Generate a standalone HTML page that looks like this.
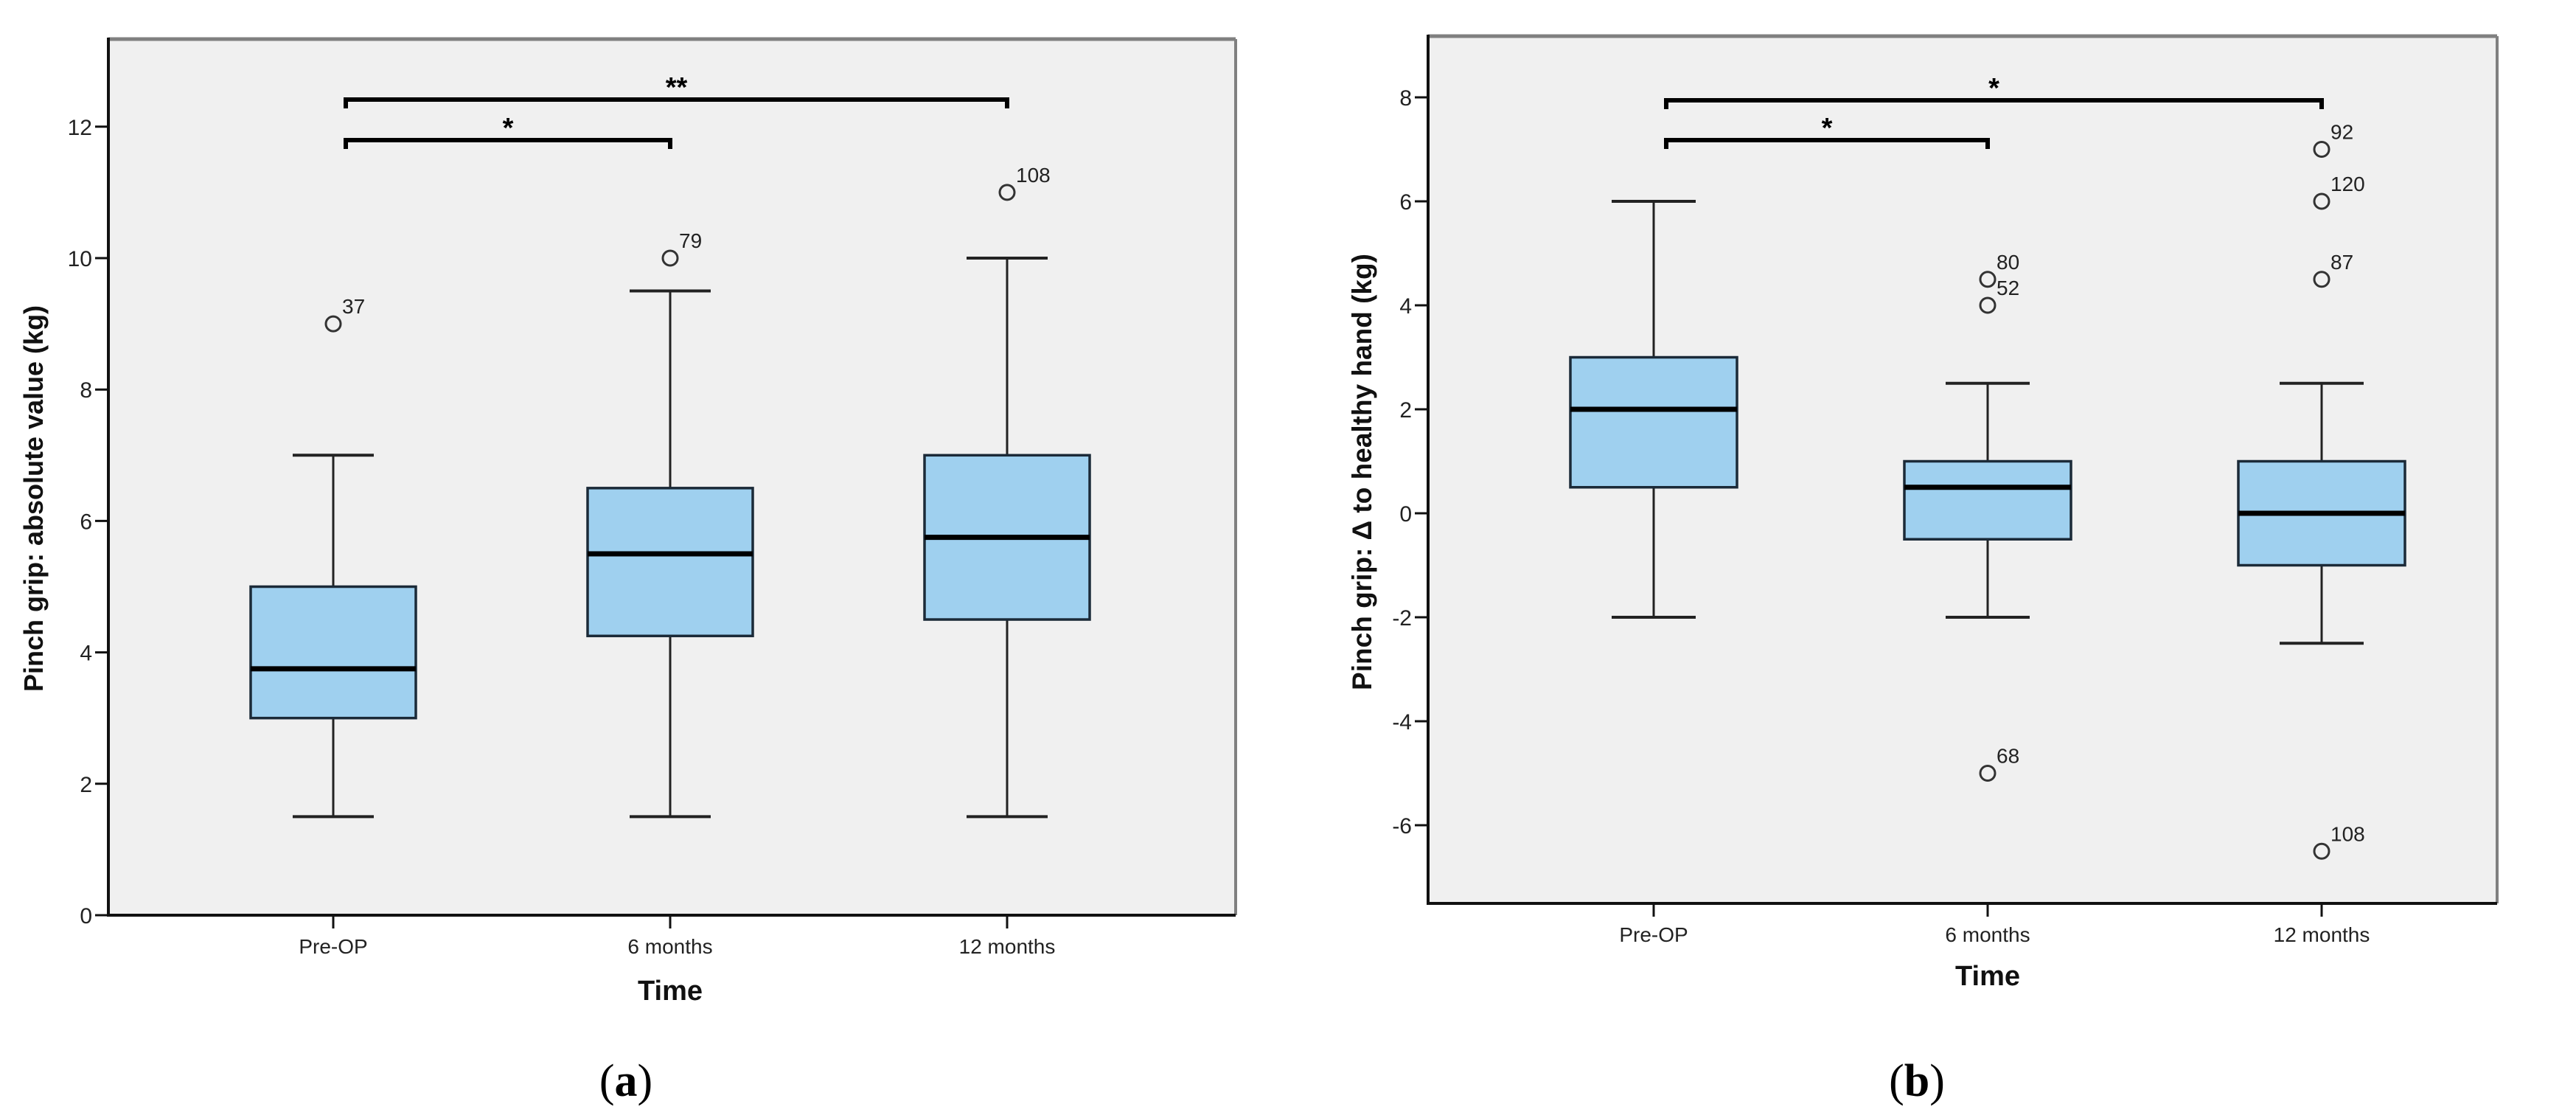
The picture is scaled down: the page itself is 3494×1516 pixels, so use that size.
<!DOCTYPE html>
<html><head><meta charset="utf-8"><style>
html,body{margin:0;padding:0;background:#fff;}
svg{display:block;}
text{font-family:"Liberation Sans",Arial,sans-serif;}
</style></head><body>
<svg id="svg" width="3494" height="1516" viewBox="0 0 3494 1516" xmlns="http://www.w3.org/2000/svg"></svg>
<script>
const categories = ["Pre-OP", "6 months", "12 months"];
// panel a: absolute value
const aWhiskerLow = [1.5, 1.5, 1.5];
const aQ1 = [3, 4.25, 4.5];
const aMedian = [3.75, 5.5, 5.75];
const aQ3 = [5, 6.5, 7];
const aWhiskerHigh = [7, 9.5, 10];
const aOutlierCat = [0, 1, 2];
const aOutlierVal = [9, 10, 11];
const aOutlierLbl = ["37", "79", "108"];
const aTicks = [0, 2, 4, 6, 8, 10, 12];
// panel b: delta to healthy hand
const bWhiskerLow = [-2, -2, -2.5];
const bQ1 = [0.5, -0.5, -1];
const bMedian = [2, 0.5, 0];
const bQ3 = [3, 1, 1];
const bWhiskerHigh = [6, 2.5, 2.5];
const bOutlierCat = [1, 1, 1, 2, 2, 2, 2];
const bOutlierVal = [4.5, 4, -5, 7, 6, 4.5, -6.5];
const bOutlierLbl = ["80", "52", "68", "92", "120", "87", "108"];
const bTicks = [-6, -4, -2, 0, 2, 4, 6, 8];

const NS = "http://www.w3.org/2000/svg";
const svg = document.getElementById("svg");
function mk(tag, attrs, parent) {
  const e = document.createElementNS(NS, tag);
  for (const k in attrs) e.setAttribute(k, attrs[k]);
  (parent || svg).appendChild(e);
  return e;
}

function panel(cfg) {
  const g = mk("g", {});
  
  
  const y = v => cfg.y0px + (v - cfg.y0v) * cfg.pxPerUnit * -1;
  const x = i => cfg.cx0 + i * cfg.dx;
  const bg = mk("rect", {x: cfg.L, y: cfg.T, width: cfg.R - cfg.L, height: cfg.B - cfg.T, fill: "#f0f0f0"}, g);
  
  
  mk("line", {x1: cfg.L, y1: cfg.T, x2: cfg.R, y2: cfg.T, stroke: "#808080", "stroke-width": 5}, g);
  mk("line", {x1: cfg.R, y1: cfg.T, x2: cfg.R, y2: cfg.B, stroke: "#808080", "stroke-width": 4}, g);
  const ya = mk("line", {x1: cfg.L, y1: cfg.T - 2, x2: cfg.L, y2: cfg.B + 2, stroke: "#111", "stroke-width": 4}, g);
  
  
  const xa = mk("line", {x1: cfg.L, y1: cfg.B, x2: cfg.R, y2: cfg.B, stroke: "#111", "stroke-width": 4}, g);
  
  
  cfg.ticks.forEach(t => {
    mk("line", {x1: cfg.L - 18, y1: y(t), x2: cfg.L, y2: y(t), stroke: "#111", "stroke-width": 3}, g);
    const tx = mk("text", {x: cfg.L - 22, y: y(t) + 11, "text-anchor": "end", "font-size": 30, fill: "#222"}, g);
    tx.textContent = t;
    
    
  });
  categories.forEach((c, i) => {
    mk("line", {x1: x(i), y1: cfg.B, x2: x(i), y2: cfg.B + 18, stroke: "#111", "stroke-width": 3}, g);
    const tx = mk("text", {x: x(i), y: cfg.B + 52, "text-anchor": "middle", "font-size": 28, fill: "#222"}, g);
    tx.textContent = c;
    
    
    const bx = mk("g", {}, g);
    
    
    mk("line", {x1: x(i), y1: y(cfg.wl[i]), x2: x(i), y2: y(cfg.q1[i]), stroke: "#222", "stroke-width": 3}, bx);
    mk("line", {x1: x(i), y1: y(cfg.q3[i]), x2: x(i), y2: y(cfg.wh[i]), stroke: "#222", "stroke-width": 3}, bx);
    mk("line", {x1: x(i) - cfg.cap, y1: y(cfg.wl[i]), x2: x(i) + cfg.cap, y2: y(cfg.wl[i]), stroke: "#222", "stroke-width": 4}, bx);
    mk("line", {x1: x(i) - cfg.cap, y1: y(cfg.wh[i]), x2: x(i) + cfg.cap, y2: y(cfg.wh[i]), stroke: "#222", "stroke-width": 4}, bx);
    mk("rect", {x: x(i) - cfg.hw, y: y(cfg.q3[i]), width: 2 * cfg.hw, height: y(cfg.q1[i]) - y(cfg.q3[i]), fill: "#9fd0ef", stroke: "#1b2a38", "stroke-width": 3.5}, bx);
    mk("line", {x1: x(i) - cfg.hw, y1: y(cfg.med[i]), x2: x(i) + cfg.hw, y2: y(cfg.med[i]), stroke: "#000", "stroke-width": 7}, bx);
  });
  cfg.oc.forEach((ci, k) => {
    const cx = x(ci), cy = y(cfg.ov[k]);
    const c = mk("circle", {cx: cx, cy: cy, r: 10, fill: "none", stroke: "#333", "stroke-width": 3}, g);
    
    
    const tx = mk("text", {x: cx + 12, y: cy - 14, "font-size": 28, fill: "#222"}, g);
    tx.textContent = cfg.ol[k];
    
    
  });
  cfg.brackets.forEach(b => {
    const bg2 = mk("g", {}, g);
    
    
    const x1 = x(0) + 17, x2 = x(b.to);
    mk("path", {d: `M${x1},${b.y + 12} V${b.y} H${x2} V${b.y + 12}`, fill: "none", stroke: "#000", "stroke-width": 6}, bg2);
    const st = mk("text", {x: (x1 + x2) / 2, y: b.y - 4, "text-anchor": "middle", "font-size": 38, "font-weight": "bold", fill: "#000"}, bg2);
    st.textContent = b.label;
  });
  const yt = mk("text", {x: 0, y: 0, transform: `translate(${cfg.ytx},${cfg.yty}) rotate(-90)`, "text-anchor": "middle", "font-size": cfg.ytsize, "font-weight": "bold", fill: "#111"}, g);
  yt.textContent = cfg.ytitle;
  
  
  const xt = mk("text", {x: x(1), y: cfg.xty, "text-anchor": "middle", "font-size": 38, "font-weight": "bold", fill: "#111"}, g);
  xt.textContent = "Time";
  
  
  const cap = mk("text", {x: cfg.capx, y: 1486, "text-anchor": "middle", "font-size": 62, fill: "#000", style: "font-family:'Liberation Serif',serif"}, g);
  cap.innerHTML = '(<tspan font-weight="bold">' + cfg.letter + '</tspan>)';
  
  
}

panel({name: "panel-a", L: 147, T: 53, R: 1676, B: 1241, y0px: 1241, y0v: 0, pxPerUnit: 89.1,
  cx0: 452, dx: 457, hw: 112, cap: 55, ticks: aTicks,
  wl: aWhiskerLow, q1: aQ1, med: aMedian, q3: aQ3, wh: aWhiskerHigh,
  oc: aOutlierCat, ov: aOutlierVal, ol: aOutlierLbl,
  brackets: [{to: 2, y: 135, label: "**"}, {to: 1, y: 190, label: "*"}],
  ytitle: "Pinch grip: absolute value (kg)", ytsize: 36, ytx: 58, yty: 676, xty: 1356, capx: 849, letter: "a"});

panel({name: "panel-b", L: 1937, T: 49, R: 3387, B: 1225, y0px: 132, y0v: 8, pxPerUnit: 70.5,
  cx0: 2243, dx: 453, hw: 113, cap: 57, ticks: bTicks,
  wl: bWhiskerLow, q1: bQ1, med: bMedian, q3: bQ3, wh: bWhiskerHigh,
  oc: bOutlierCat, ov: bOutlierVal, ol: bOutlierLbl,
  brackets: [{to: 2, y: 136, label: "*"}, {to: 1, y: 190, label: "*"}],
  ytitle: "Pinch grip: \u0394 to healthy hand (kg)", ytsize: 37, ytx: 1860, yty: 640, xty: 1336, capx: 2600, letter: "b"});
</script>
</body></html>
